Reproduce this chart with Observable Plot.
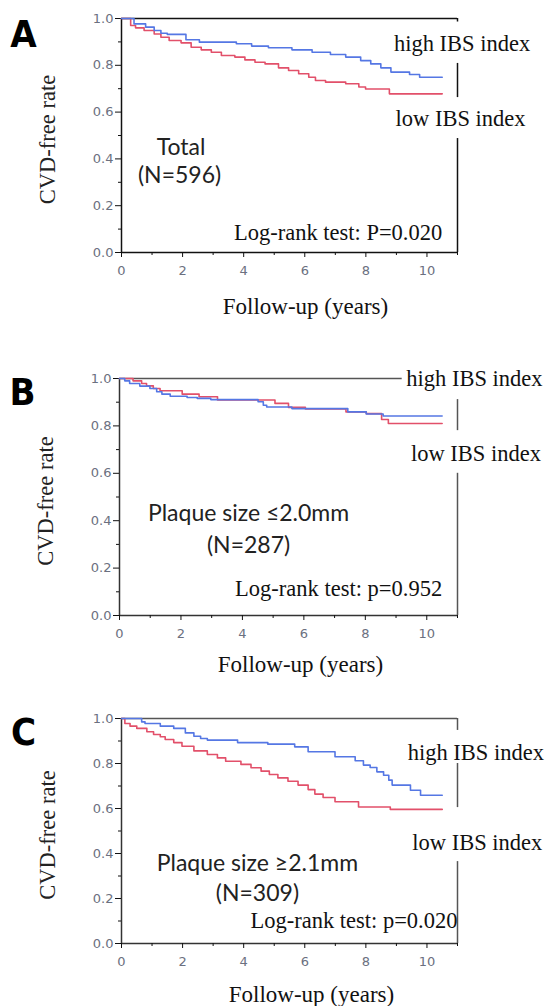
<!DOCTYPE html>
<html>
<head>
<meta charset="utf-8">
<script src="https://cdn.jsdelivr.net/npm/d3@7"></script>
<script src="https://cdn.jsdelivr.net/npm/@observablehq/plot@0.6"></script>
<style>
  html, body { margin: 0; padding: 0; background: #fff; }
  #root { position: relative; width: 547px; height: 1006px; overflow: hidden; }
  .panel { position: absolute; left: 0; }
</style>
</head>
<body>
<div id="root"></div>
<script>
// ---------------- DATA ----------------
// Panel A (Total, N=596)
const aHighT = [0, 0.41, 0.79, 1.07, 1.29, 1.5, 2.11, 2.55, 3.76, 4.26, 4.81, 5.58, 6.24, 6.84, 7.34, 7.83, 8.16, 8.49, 8.82, 9.43, 9.76, 10.5];
const aHighS = [1.0, 0.977, 0.963, 0.949, 0.937, 0.932, 0.909, 0.899, 0.892, 0.882, 0.875, 0.866, 0.856, 0.846, 0.835, 0.82, 0.806, 0.789, 0.771, 0.761, 0.749, 0.749];
const aLowT = [0, 0.30, 0.46, 0.74, 1.07, 1.29, 1.56, 1.95, 2.28, 2.61, 2.94, 3.27, 3.71, 4.04, 4.37, 4.70, 5.14, 5.47, 5.80, 6.13, 6.35, 6.68, 7.34, 7.77, 7.99, 8.77, 10.5];
const aLowS = [1.0, 0.970, 0.960, 0.949, 0.934, 0.920, 0.906, 0.896, 0.877, 0.866, 0.856, 0.842, 0.835, 0.823, 0.813, 0.806, 0.789, 0.778, 0.764, 0.749, 0.735, 0.728, 0.721, 0.707, 0.699, 0.678, 0.678];

// Panel B (Plaque size <=2.0mm, N=287)
const bHighT = [0, 0.17, 0.33, 0.66, 0.99, 1.21, 1.38, 1.65, 2.2, 2.53, 2.97, 4.51, 4.68, 4.79, 5.61, 7.43, 8.03, 8.58, 10.5];
const bHighS = [1.0, 0.990, 0.979, 0.968, 0.958, 0.944, 0.934, 0.925, 0.920, 0.916, 0.911, 0.902, 0.887, 0.880, 0.873, 0.859, 0.850, 0.842, 0.842];
const bLowT = [0, 0.44, 0.72, 0.88, 1.1, 1.32, 2.04, 2.59, 3.19, 5.06, 5.5, 6.05, 7.37, 8.03, 8.53, 8.75, 10.5];
const bLowS = [1.0, 0.990, 0.979, 0.969, 0.958, 0.948, 0.934, 0.923, 0.909, 0.895, 0.878, 0.871, 0.859, 0.852, 0.827, 0.810, 0.810];

// Panel C (Plaque size >=2.1mm, N=309)
const cHighT = [0, 0.66, 0.77, 1.27, 1.71, 2.09, 2.37, 2.59, 2.81, 3.8, 4.79, 5.67, 6.11, 6.99, 7.65, 7.92, 8.14, 8.36, 8.58, 8.75, 8.86, 9.46, 9.79, 10.5];
const cHighS = [1.0, 0.985, 0.978, 0.966, 0.956, 0.936, 0.921, 0.911, 0.904, 0.893, 0.886, 0.874, 0.852, 0.830, 0.812, 0.793, 0.782, 0.763, 0.748, 0.726, 0.704, 0.681, 0.659, 0.659];
const cLowT = [0, 0.11, 0.28, 0.5, 0.83, 1.05, 1.27, 1.43, 1.71, 1.98, 2.37, 2.81, 3.14, 3.41, 3.91, 4.24, 4.57, 4.84, 5.12, 5.45, 5.78, 6.11, 6.33, 6.6, 6.99, 7.76, 8.8, 10.5];
const cLowS = [1.0, 0.978, 0.966, 0.956, 0.941, 0.929, 0.919, 0.907, 0.893, 0.877, 0.856, 0.840, 0.825, 0.810, 0.796, 0.781, 0.766, 0.751, 0.736, 0.721, 0.704, 0.684, 0.664, 0.649, 0.630, 0.607, 0.596, 0.596];

// Axis ticks
const xMajor = [0, 2, 4, 6, 8, 10];
const xMinor = [1, 3, 5, 7, 9, 11];
const yMajor = [0, 0.2, 0.4, 0.6, 0.8, 1.0];
const yMinor = [0.1, 0.3, 0.5, 0.7, 0.9];

// Text
const yLabel = "CVD-free rate";
const xLabel = "Follow-up (years)";
const highLabel = "high IBS index";
const lowLabel = "low IBS index";
const letters = ["A", "B", "C"];
const groupLines = [["Total", "(N=596)"], ["Plaque size \u22642.0mm", "(N=287)"], ["Plaque size \u22652.1mm", "(N=309)"]];
const pTexts = ["Log-rank test: P=0.020", "Log-rank test: p=0.952", "Log-rank test: p=0.020"];

// ---------------- LAYOUT / STYLE ----------------
const BLUE = "#5577e4";
const RED = "#e2506a";
const TICKTEXT = "#6b7080";
const SERIF = "'Liberation Serif', 'Times New Roman', serif";
const SANS = "Lato, 'Open Sans', sans-serif";
const LETTERFONT = "'Liberation Sans Narrow', 'DejaVu Sans Condensed', 'DejaVu Sans', sans-serif";

const zip = (T, S) => T.map((t, i) => ({t, s: S[i]}));

const panels = [
  {
    top: 0, height: 330, mt: 18, mb: 78, ml: 121, mr: 90,
    high: zip(aHighT, aHighS), low: zip(aLowT, aLowS),
    frameColor: "#111", topColor: "#111", topEnd: 11,
    rightSegs: [[1.0, 0.985], [0.808, 0.662], [0.487, 0]],
    highPos: {x: 11.15, y: 0.893}, lowPos: {x: 11.1, y: 0.573},
    g1: {x: 1.95, y: 0.449}, g2: {x: 1.9, y: 0.329},
    pPos: {x: 10.5, y: 0.085},
    letterD: [-98, 16], xLabDx: 16, xLabDy: 61
  },
  {
    top: 340, height: 340, mt: 38, mb: 65, ml: 119, mr: 90,
    high: zip(bHighT, bHighS), low: zip(bLowT, bLowS),
    frameColor: "#333", topColor: "#555", topEnd: 9.2,
    rightSegs: [[0.911, 0.78], [0.6, 0]],
    highPos: {x: 11.55, y: 1.0}, lowPos: {x: 11.6, y: 0.684},
    g1: {x: 4.2, y: 0.43}, g2: {x: 4.2, y: 0.295},
    pPos: {x: 10.5, y: 0.114},
    letterD: [-97, 14], xLabDx: 12, xLabDy: 56
  },
  {
    top: 680, height: 326, mt: 38, mb: 63, ml: 121, mr: 90,
    high: zip(cHighT, cHighS), low: zip(cLowT, cLowS),
    frameColor: "#333", topColor: "#555", topEnd: 11,
    rightSegs: [[1.0, 0.947], [0.8, 0.604], [0.364, 0]],
    highPos: {x: 11.6, y: 0.849}, lowPos: {x: 11.65, y: 0.449},
    g1: {x: 4.45, y: 0.356}, g2: {x: 4.45, y: 0.222},
    pPos: {x: 11.0, y: 0.102},
    letterD: [-98, 14], xLabDx: 22, xLabDy: 58
  }
];

const root = document.getElementById("root");

panels.forEach((p, i) => {
  const chart = Plot.plot({
    width: 547,
    height: p.height,
    marginTop: p.mt, marginBottom: p.mb, marginLeft: p.ml, marginRight: p.mr,
    x: {domain: [0, 11]},
    y: {domain: [0, 1]},
    style: {background: "transparent", overflow: "visible"},
    marks: [
      // frame lines
      Plot.ruleY([0], {x1: 0, x2: 11, stroke: p.frameColor, strokeWidth: 1.5}),
      Plot.ruleX([0], {y1: 0, y2: 1, stroke: p.frameColor, strokeWidth: 1.5}),
      Plot.ruleY([1], {x1: 0, x2: p.topEnd, stroke: p.topColor, strokeWidth: 1.5}),
      Plot.ruleX(p.rightSegs, {x: () => 11, y1: d => d[0], y2: d => d[1], stroke: p.topColor, strokeWidth: 1.5}),
      // axes
      Plot.axisY({ticks: yMajor, tickFormat: d3.format(".1f"), tickSize: 6, tickPadding: 2, label: null,
        color: TICKTEXT, stroke: "#111", fontSize: 13, fontFamily: "'DejaVu Sans', sans-serif"}),
      Plot.axisY({ticks: yMinor, tickFormat: () => "", tickSize: 3, label: null, stroke: "#111"}),
      Plot.axisX({ticks: xMajor, tickSize: 5, tickPadding: 8, label: null,
        color: TICKTEXT, stroke: "#111", fontSize: 13, fontFamily: "'DejaVu Sans', sans-serif"}),
      Plot.axisX({ticks: xMinor, tickFormat: () => "", tickSize: 3, label: null, stroke: "#111"}),
      // survival curves
      Plot.line(p.low, {x: "t", y: "s", curve: "step-after", stroke: RED, strokeWidth: 1.6}),
      Plot.line(p.high, {x: "t", y: "s", curve: "step-after", stroke: BLUE, strokeWidth: 1.6}),
      // labels
      Plot.text([highLabel], {x: () => p.highPos.x, y: () => p.highPos.y, text: d => d, fontFamily: SERIF, fontSize: 22.5, fill: "#111"}),
      Plot.text([lowLabel], {x: () => p.lowPos.x, y: () => p.lowPos.y, text: d => d, fontFamily: SERIF, fontSize: 22.5, fill: "#111"}),
      Plot.text([groupLines[i][0]], {x: () => p.g1.x, y: () => p.g1.y, text: d => d, fontFamily: SANS, fontSize: 23, fill: "#222"}),
      Plot.text([groupLines[i][1]], {x: () => p.g2.x, y: () => p.g2.y, text: d => d, fontFamily: SANS, fontSize: 23, fill: "#222"}),
      Plot.text([pTexts[i]], {x: () => p.pPos.x, y: () => p.pPos.y, text: d => d, textAnchor: "end", fontFamily: SERIF, fontSize: 22.5, fill: "#111"}),
      Plot.text([yLabel], {frameAnchor: "left", dx: -74, dy: 4, rotate: -90, textAnchor: "middle", lineAnchor: "middle", text: d => d, fontFamily: SERIF, fontSize: 22.5, fill: "#222"}),
      Plot.text([xLabel], {frameAnchor: "bottom", dx: p.xLabDx, dy: p.xLabDy, textAnchor: "middle", text: d => d, fontFamily: SERIF, fontSize: 23, fill: "#111"}),
      Plot.text([letters[i]], {frameAnchor: "top-left", dx: p.letterD[0], dy: p.letterD[1], textAnchor: "middle", lineAnchor: "middle", text: d => d,
        fontFamily: LETTERFONT, fontWeight: "bold", fontSize: 38, fill: "#000"})
    ]
  });
  const div = document.createElement("div");
  div.className = "panel";
  div.style.top = p.top + "px";
  div.appendChild(chart);
  root.appendChild(div);
});
</script>
</body>
</html>
